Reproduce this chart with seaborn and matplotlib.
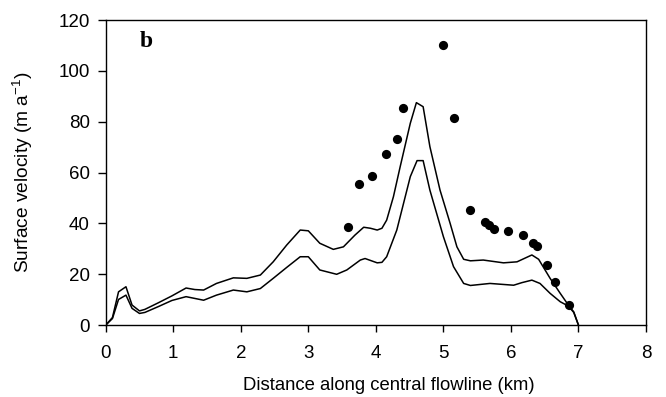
import matplotlib
matplotlib.use("Agg")
import matplotlib.pyplot as plt
import seaborn as sns
import pandas as pd

# Observed surface velocity (dots)
obs_km = [3.585, 3.75, 3.95, 4.15, 4.32, 4.40, 5.00, 5.15, 5.40, 5.62, 5.68, 5.75,
          5.95, 6.18, 6.32, 6.38, 6.54, 6.65, 6.86]
obs_v = [38.7, 55.5, 58.7, 67.3, 73.4, 85.2, 110.1, 81.4, 45.3, 40.6, 39.2, 37.8,
         37.1, 35.6, 32.3, 31.1, 23.7, 16.9, 8.0]

# Upper modelled curve
up_km = [0.0, 0.10, 0.19, 0.30, 0.39, 0.50, 0.58, 0.78, 0.98, 1.19, 1.32, 1.45, 1.64,
         1.89, 2.09, 2.29, 2.48, 2.68, 2.88, 3.00, 3.17, 3.37, 3.52, 3.69, 3.82, 3.92,
         4.02, 4.09, 4.16, 4.26, 4.36, 4.51, 4.60, 4.70, 4.80, 4.95, 5.10, 5.20, 5.30,
         5.40, 5.59, 5.89, 6.09, 6.31, 6.41, 6.58, 6.73, 6.85, 6.93, 7.00]
up_v = [0.0, 3.0, 13.1, 15.1, 7.9, 5.6, 6.2, 8.8, 11.5, 14.6, 14.0, 13.8, 16.4,
        18.6, 18.4, 19.7, 24.9, 31.5, 37.4, 37.1, 32.2, 29.8, 30.8, 35.4, 38.5, 38.1,
        37.4, 38.1, 41.3, 50.5, 62.3, 79.4, 87.5, 85.9, 70.2, 53.1, 40.0, 30.8, 25.9,
        25.3, 25.6, 24.5, 24.9, 27.6, 25.9, 18.4, 12.5, 7.9, 5.2, 0.0]

# Lower modelled curve
lo_km = [0.0, 0.10, 0.19, 0.30, 0.39, 0.50, 0.58, 0.78, 0.98, 1.19, 1.45, 1.64, 1.89,
         2.09, 2.29, 2.48, 2.68, 2.88, 3.00, 3.17, 3.42, 3.57, 3.77, 3.84, 4.02, 4.09,
         4.16, 4.31, 4.51, 4.61, 4.70, 4.80, 5.00, 5.15, 5.30, 5.40, 5.69, 6.04, 6.16,
         6.31, 6.43, 6.58, 6.73, 6.85, 6.93, 7.00]
lo_v = [0.0, 2.6, 10.1, 11.8, 6.6, 4.6, 5.0, 7.3, 9.7, 11.2, 9.8, 11.8, 13.8,
        13.1, 14.4, 18.4, 22.7, 26.9, 26.9, 21.7, 20.0, 21.7, 25.6, 26.2, 24.5, 24.7,
        26.9, 37.4, 58.4, 64.7, 64.7, 53.1, 34.8, 23.0, 16.4, 15.6, 16.4, 15.7, 16.7,
        17.7, 16.4, 12.5, 9.2, 7.5, 5.0, 0.0]

x_ticks = [0, 1, 2, 3, 4, 5, 6, 7, 8]
y_ticks = [0, 20, 40, 60, 80, 100, 120]

sns.set_style("ticks")
plt.rcParams['font.family'] = ['Liberation Sans', 'DejaVu Sans']
plt.rcParams['mathtext.fontset'] = 'custom'
plt.rcParams['mathtext.rm'] = 'Liberation Sans'
plt.rcParams['mathtext.it'] = 'Liberation Sans:italic'
plt.rcParams['text.color'] = 'black'
plt.rcParams['axes.labelcolor'] = 'black'
plt.rcParams['xtick.color'] = 'black'
plt.rcParams['ytick.color'] = 'black'

fig = plt.figure(figsize=(6.66, 3.97), dpi=100)
ax = fig.add_axes([0.1587, 0.181, 0.8113, 0.7686])

up = pd.DataFrame({"km": up_km, "v": up_v})
lo = pd.DataFrame({"km": lo_km, "v": lo_v})
obs = pd.DataFrame({"km": obs_km, "v": obs_v})

sns.lineplot(data=up, x="km", y="v", sort=False, color="black", lw=1.1, ax=ax)
sns.lineplot(data=lo, x="km", y="v", sort=False, color="black", lw=1.1, ax=ax)
sns.scatterplot(data=obs, x="km", y="v", color="black", s=44, edgecolor="black",
                linewidth=0, ax=ax, zorder=5)

ax.set_xlim(0, 8)
ax.set_ylim(0, 120)
ax.set_xticks(x_ticks)
ax.set_yticks(y_ticks)
ax.tick_params(labelsize=13.5, length=5, width=1, color="black", direction="out",
               labelcolor="black")
ax.tick_params(axis="x", pad=9)
ax.tick_params(axis="y", pad=6, length=5.5)
for s in ax.spines.values():
    s.set_visible(True)
    s.set_color("black")
    s.set_linewidth(1.0)
ax.set_xlabel("Distance along central flowline (km)", fontsize=13.3)
ax.set_ylabel("Surface velocity (m a$^{\\mathregular{-1}}$)", fontsize=13.8)
ax.xaxis.set_label_coords(0.524, -0.17)
ax.yaxis.set_label_coords(-0.131, 0.5)
ax.text(0.0625, 0.965, "b", transform=ax.transAxes, fontsize=17, fontweight="bold",
        family="Liberation Serif", va="top", ha="left")

fig.savefig("out.png", dpi=100)
